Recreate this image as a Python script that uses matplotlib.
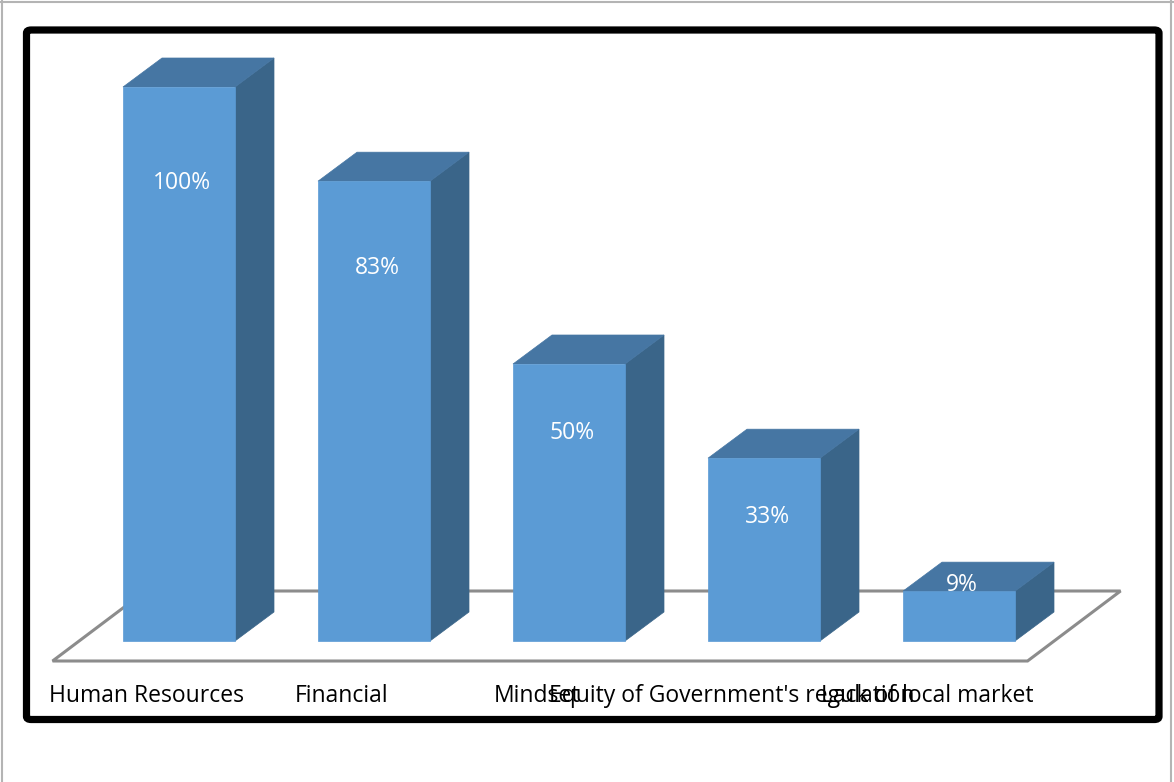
import matplotlib
matplotlib.use("Agg")
import matplotlib.pyplot as plt
from matplotlib.patches import Polygon, FancyBboxPatch
import numpy as np

categories = ["Human Resources", "Financial", "Mindset",
              "Equity of Government's regulation", "Lack of local market"]
values = [100, 83, 50, 33, 9]
value_labels = ["100%", "83%", "50%", "33%", "9%"]

FRONT = "#5B9BD5"
TOP = "#4676A3"
SIDE = "#3A6589"
FLOOR_EDGE = "#8C8C8C"

W, H = 1174, 782
fig = plt.figure(figsize=(W / 100, H / 100), dpi=100)
fig.patch.set_facecolor("white")

# Axes fill the whole figure; data units: x = category index, y = percent
ax = fig.add_axes([0, 0, 1, 1])
px_per_cat = 195.0
px_per_pct = 5.54
x0_px, y0_px = 179.0, 641.0
ax.set_xlim((0 - x0_px) / px_per_cat, (W - x0_px) / px_per_cat)
ax.set_ylim((y0_px - H) / px_per_pct, (y0_px - 0) / px_per_pct)
ax.axis("off")

bar_w = 112 / px_per_cat
depth_dx = 39 / px_per_cat
depth_dy = 29 / px_per_pct

# floor (perspective parallelogram)
n = len(categories)
f_front = -20 / px_per_pct
f_back = 50 / px_per_pct
f_shift_front = -27 / px_per_cat
f_shift_back = 66 / px_per_cat
fl = -0.51
fr = (n - 1) + 0.49
floor = Polygon([(fl + f_shift_front, f_front), (fr + f_shift_front, f_front),
                 (fr + f_shift_back, f_back), (fl + f_shift_back, f_back)],
                closed=True, facecolor="white", edgecolor=FLOOR_EDGE, lw=2.2, zorder=1)
ax.add_patch(floor)

x = np.arange(n)
for i, v in enumerate(values):
    l = x[i] - bar_w / 2
    r = x[i] + bar_w / 2
    # right side face
    ax.add_patch(Polygon([(r, 0), (r + depth_dx, depth_dy), (r + depth_dx, v + depth_dy), (r, v)],
                         closed=True, facecolor=SIDE, edgecolor=SIDE, lw=0.5, zorder=3))
    # top face
    ax.add_patch(Polygon([(l, v), (r, v), (r + depth_dx, v + depth_dy), (l + depth_dx, v + depth_dy)],
                         closed=True, facecolor=TOP, edgecolor=TOP, lw=0.5, zorder=3))
    # front face
    ax.bar(x[i], v, width=bar_w, color=FRONT, edgecolor=FRONT, lw=0.5, zorder=4)
    # data label: inside the bar end, or on the top face for short bars
    lab_y = 0.9 * v - 7.4
    if lab_y < v / 2:
        lab_y = v + 1.1
    ax.text(x[i] + 3 / px_per_cat, lab_y, value_labels[i], ha="center", va="center",
            color="white", fontsize=16.5, family="Open Sans", zorder=6)

# category labels below the floor
label_y = (y0_px - 696) / px_per_pct
for i, c in enumerate(categories):
    ax.text(x[i] - 32 / px_per_cat, label_y, c, ha="center", va="center",
            color="black", fontsize=16.5, family="Open Sans", zorder=6)

# thick black frame around the chart
frame = FancyBboxPatch((26.5 / W, 1 - 719.5 / H), (1159 - 26.5) / W, (719.5 - 30) / H,
                       boxstyle="round,pad=0,rounding_size=0.004",
                       transform=fig.transFigure, facecolor="none",
                       edgecolor="black", lw=5.2, zorder=10)
fig.patches.append(frame)

# thin grey page border
for xs, ys in [([1.5, 1.5], [0, H]), ([0, W], [1.5, 1.5]), ([1171, 1171], [0, H])]:
    fig.lines.append(plt.Line2D([p / W for p in xs], [1 - p / H for p in ys],
                                transform=fig.transFigure, color="#B4B4B4", lw=1.5))

fig.savefig("out.png", dpi=100, facecolor="white")
